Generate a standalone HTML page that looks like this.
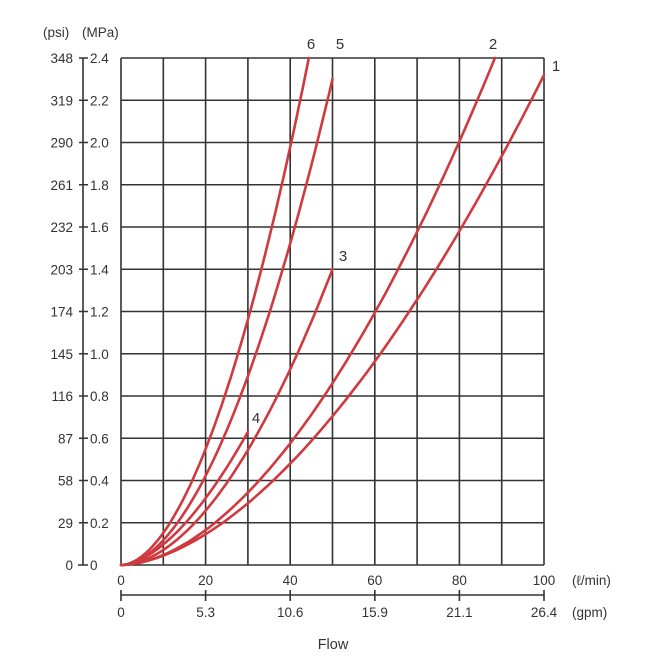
<!DOCTYPE html>
<html><head><meta charset="utf-8"><style>
html,body{margin:0;padding:0;background:#fff;}
svg{display:block;font-family:"Liberation Sans",Arial,sans-serif;}
</style></head><body>
<svg id="s" width="658" height="672" viewBox="0 0 658 672" xmlns="http://www.w3.org/2000/svg">
<g id="grid" stroke="#333" stroke-width="1.6" fill="none"></g>
<g id="curves" stroke="#d0393f" stroke-width="2.6" fill="none" stroke-linecap="round"></g>
<g id="txt" fill="#333" font-size="13.5"></g>
</svg>
<script>
var X0=121,X1=544,Y0=565,Y1=58;
function px(q){return X0+(X1-X0)*q/100;}
function py(p){return Y0-(Y0-Y1)*p/2.4;}
var ns="http://www.w3.org/2000/svg";
function el(g,t,a,txt){var e=document.createElementNS(ns,t);for(var k in a)e.setAttribute(k,a[k]);if(txt!=null)e.textContent=txt;document.getElementById(g).appendChild(e);return e;}
var d="";
for(var i=0;i<=10;i++){var x=px(i*10);d+="M"+x+" "+Y0+"V"+Y1;}
for(var j=0;j<=12;j++){var y=py(j*0.2);d+="M"+X0+" "+y+"H"+X1;}
d+="M83 "+Y1+"V"+Y0+"M78 "+Y0+"H88";
for(var j=1;j<=12;j++){var y=py(j*0.2);d+="M79 "+y+"H88";}
d+="M121 595H544";
[0,20,40,60,80,100].forEach(function(q){var x=px(q);d+="M"+x+" 590V601";});
el("grid","path",{d:d});
var psi=[0,29,58,87,116,145,174,203,232,261,290,319,348];
for(var j=0;j<=12;j++){var y=py(j*0.2)+5;
 el("txt","text",{x:73,y:y,"text-anchor":"end"},psi[j]);
 el("txt","text",{x:90,y:y},j==0?"0":(j*0.2).toFixed(1));}
el("txt","text",{x:43,y:37},"(psi)");
el("txt","text",{x:82,y:37},"(MPa)");
[0,20,40,60,80,100].forEach(function(q){el("txt","text",{x:px(q),y:585,"text-anchor":"middle"},q);});
var g=["0","5.3","10.6","15.9","21.1","26.4"];
[0,20,40,60,80,100].forEach(function(q,i){el("txt","text",{x:px(q),y:617,"text-anchor":"middle"},g[i]);});
el("txt","text",{x:572,y:585},"(ℓ/min)");
el("txt","text",{x:572,y:617},"(gpm)");
el("txt","text",{x:333,y:649,"text-anchor":"middle","font-size":"14.5"},"Flow");
var cs=[[100,2.32,1.72],[88.4,2.4,1.8],[50,1.4,1.85],[30,0.63,1.7],[50,2.3,1.85],[44.4,2.4,1.85]];
cs.forEach(function(c){var s="";for(var k=0;k<=60;k++){var q=c[0]*k/60;var p=c[1]*Math.pow(q/c[0],c[2]);s+=(k?"L":"M")+px(q).toFixed(1)+" "+py(p).toFixed(1);}el("curves","path",{d:s});});
[["6",311,49],["5",340,49],["2",493,49],["1",556,71],["3",343,261],["4",256,423]].forEach(function(l){el("txt","text",{x:l[1],y:l[2],"text-anchor":"middle","font-size":"15"},l[0]);});
</script>
</body></html>
